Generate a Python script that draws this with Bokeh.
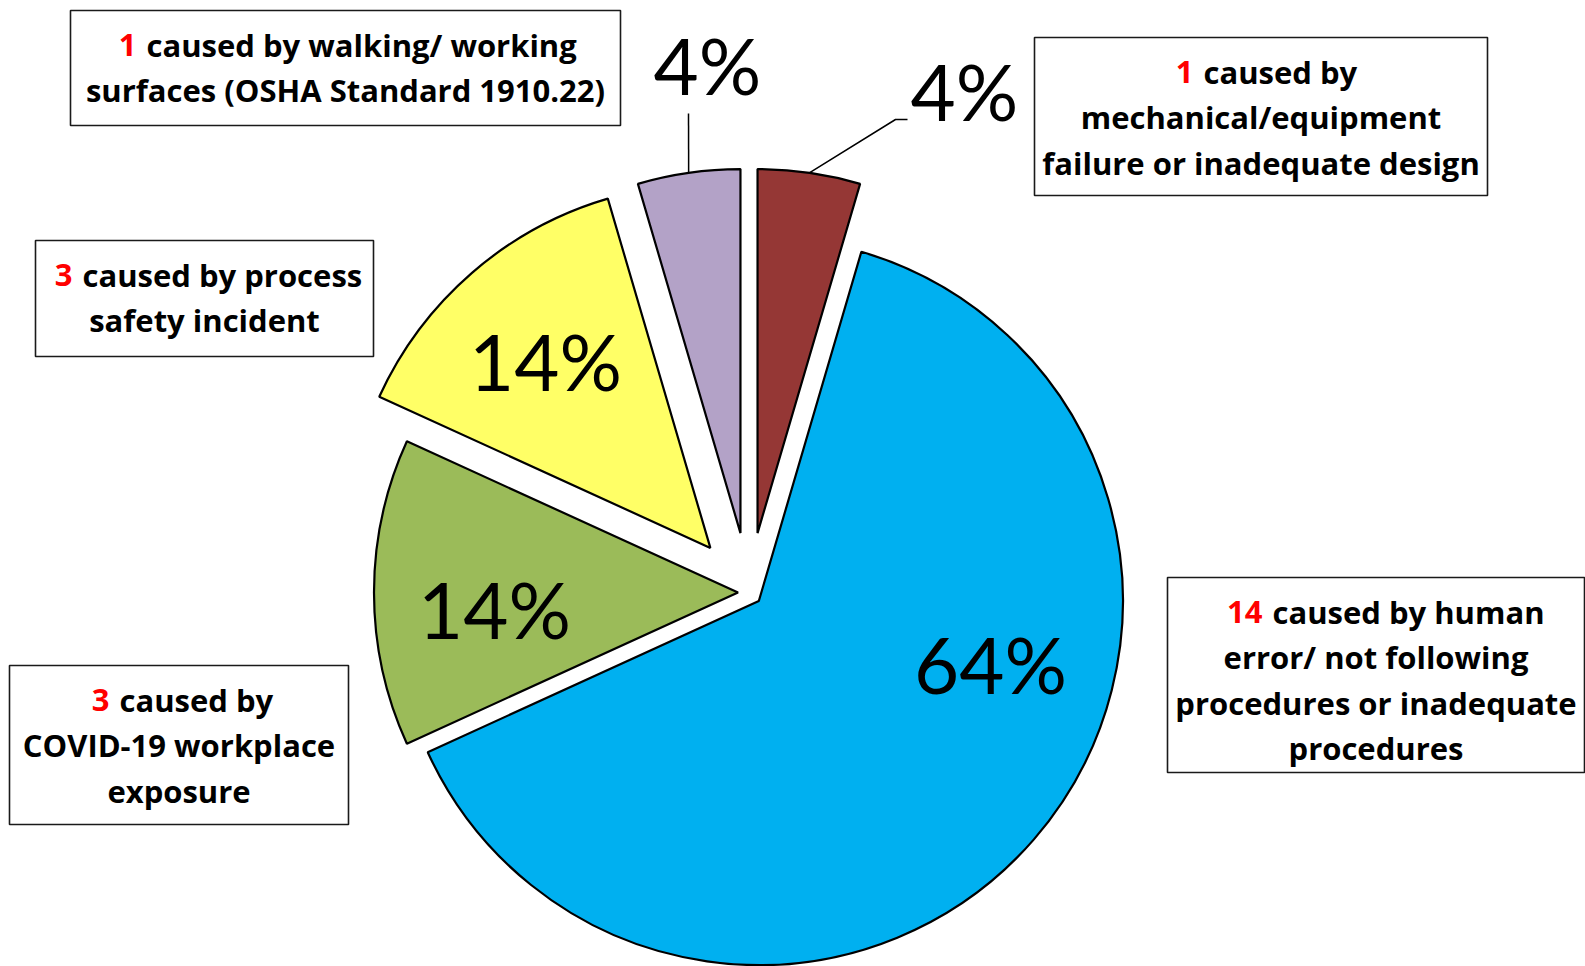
import numpy as np
from bokeh.plotting import figure
from bokeh.models import Range1d, ColumnDataSource
from bokeh.core.properties import value
from bokeh.embed import file_html
from bokeh.resources import INLINE

# ---------------- data ----------------
categories = [
    "mechanical/equipment failure or inadequate design",
    "human error/ not following procedures or inadequate procedures",
    "COVID-19 workplace exposure",
    "process safety incident",
    "walking/ working surfaces (OSHA Standard 1910.22)",
]
counts = [1, 14, 3, 3, 1]
pct_labels = ["4%", "64%", "14%", "14%", "4%"]
colors = ["#953735", "#00B0F0", "#9BBB59", "#FFFF66", "#B3A2C7"]

box_numbers = ["1", "14", "3", "3", "1"]
box_first = ["caused by", "caused by human", "caused by",
             "caused by process", "caused by walking/ working"]
box_rest = [
    ["mechanical/equipment", "failure or inadequate design"],
    ["error/ not following", "procedures or inadequate", "procedures"],
    ["COVID-19 workplace", "exposure"],
    ["safety incident"],
    ["surfaces (OSHA Standard 1910.22)"],
]

# ---------------- layout (screen pixels of the page) ----------------
PAGE_W, PAGE_H = 1585, 966
cx, cy, R = 748.5, 592.0, 364.0
explode = [60, 13, 11, 59, 60]

# label boxes: left, top, right, bottom
boxes = [(1034, 37, 1487, 195), (1167, 577, 1584, 772), (9, 665, 348, 824),
         (35, 240, 373, 356), (70, 10, 620, 125)]
split_x = [1198, 1267, 114, 77, 141]       # gap between red number and rest
line_gap = 45.5
first_line_offset = 34
# percent labels: centre x, baseline y (as drawn)
pct_pos = [(964, 90), (990, 663), (494, 608), (545, 360), (707, 64)]
# leader lines (elbow / end points)
leaders = {0: [(895, 119), (907, 119)], 4: [(688, 113)]}

def Y(y):
    return PAGE_H - y

p = figure(width=PAGE_W, height=PAGE_H, output_backend="svg", toolbar_location=None,
           x_range=Range1d(0, PAGE_W), y_range=Range1d(0, PAGE_H),
           min_border=0)
p.axis.visible = False
p.grid.visible = False
p.outline_line_color = None
p.background_fill_color = "white"

total = float(sum(counts))
ends = np.cumsum(counts) / total * 360.0
starts = np.concatenate([[0.0], ends[:-1]])
bis = (starts + ends) / 2.0

vx = cx + np.array(explode) * np.sin(np.radians(bis))
vy = cy - np.array(explode) * np.cos(np.radians(bis))

src = ColumnDataSource(dict(
    x=vx, y=[Y(v) for v in vy],
    sa=np.radians(90.0 - starts), ea=np.radians(90.0 - ends),
    color=colors, cat=categories,
))
p.wedge(x="x", y="y", radius=R, start_angle="sa", end_angle="ea",
        direction="clock", fill_color="color", line_color="black",
        line_width=2.2, source=src)

# leader lines
for i, pts in leaders.items():
    sx = vx[i] + R * np.sin(np.radians(bis[i]))
    sy = vy[i] - R * np.cos(np.radians(bis[i]))
    xs = [sx] + [q[0] for q in pts]
    ys = [Y(sy)] + [Y(q[1]) for q in pts]
    p.line(xs, ys, line_color="black", line_width=1.5)

# percent labels
p.text(x=[q[0] for q in pct_pos], y=[Y(q[1]) for q in pct_pos], text=pct_labels,
       text_font=value("Lato"), text_font_size="78px", text_color="black",
       text_align="center", text_baseline="alphabetic")

# boxes
p.quad(left=[b[0] for b in boxes], right=[b[2] for b in boxes],
       top=[Y(b[1]) for b in boxes], bottom=[Y(b[3]) for b in boxes],
       fill_color="white", line_color="#1a1a1a", line_width=1.6)

num_x, num_y, first_x, first_y = [], [], [], []
rest_x, rest_y, rest_t = [], [], []
for i, b in enumerate(boxes):
    base = b[1] + first_line_offset
    num_x.append(split_x[i] - 5)
    first_x.append(split_x[i] + 5)
    num_y.append(Y(base))
    first_y.append(Y(base))
    cxb = (b[0] + b[2]) / 2.0
    for k, t in enumerate(box_rest[i]):
        rest_x.append(cxb)
        rest_y.append(Y(base + (k + 1) * line_gap))
        rest_t.append(t)

common = dict(text_font=value("Open Sans"), text_font_size="31px",
              text_font_style="bold", text_baseline="alphabetic")
p.text(x=num_x, y=num_y, text=box_numbers, text_color="#FF0000",
       text_align="right", **common)
p.text(x=first_x, y=first_y, text=box_first, text_color="black",
       text_align="left", **common)
p.text(x=rest_x, y=rest_y, text=rest_t, text_color="black",
       text_align="center", **common)

open("out.html", "w").write(file_html(p, INLINE))
